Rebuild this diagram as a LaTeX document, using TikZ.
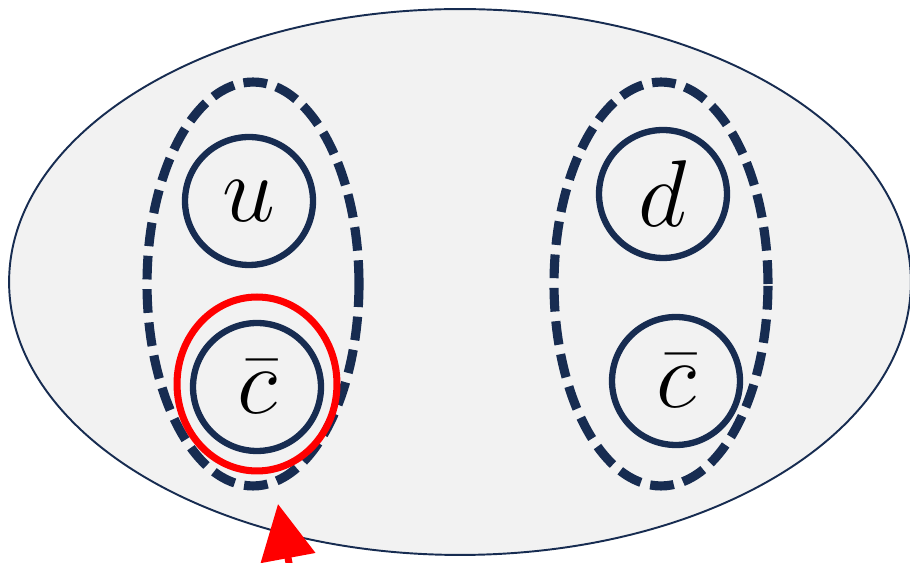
\documentclass[tikz,border=0pt]{standalone}
\usepackage{amsmath, amssymb}
\usepackage{graphicx}
\usepackage{tikz}
\usetikzlibrary{positioning,arrows.meta,shapes.geometric}
\definecolor{navy}{HTML}{172C51}
\definecolor{panel}{HTML}{F2F2F2}
\newcommand{\bigsym}[1]{\scalebox{2.17}{\Huge$#1$}}
\tikzset{
  setnode/.style={draw=navy, ellipse, line width=1.1pt, fill=panel, inner sep=0pt, minimum width=18.04cm, minimum height=10.92cm},
  groupnode/.style={draw=navy, ellipse, line width=5.2pt, dash pattern=on 13.5pt off 5.5pt, inner sep=0pt, minimum width=4.24cm, minimum height=8.08cm},
  elemnode/.style={draw=navy, circle, line width=3.6pt, inner sep=0pt, minimum size=2.56cm},
  picknode/.style={draw=red, ellipse, line width=4pt, inner sep=0pt, minimum width=3.2cm, minimum height=3.48cm},
  pickarrow/.style={-{Triangle[length=1.1cm, width=1.08cm]}, line width=4pt, red}
}

\begin{document}
\begin{tikzpicture}[x=0.02cm, y=-0.02cm]
      \clip (0,0) rectangle (910,563);
      \node[setnode] (all) at (460,282) {};
      \node[groupnode] (left) at (253,284) {};
      \node[groupnode, minimum width=4.28cm] (right) at (661,284) {};
      \node[elemnode] (u) at (249,201) {\bigsym{u}};
      \node[elemnode] (cl) at (257,387) {\bigsym{\bar{c}}};
      \node[elemnode] (d) at (663,194) {\bigsym{d}};
      \node[elemnode] (cr) at (676,381) {\bigsym{\bar{c}}};
      \node[picknode] (pick) at (257,384) {};
      \coordinate (tail) at (294,590);
      \coordinate (tip) at (278,504);
      \draw[pickarrow] (tail) -- (tip);
    \end{tikzpicture}
\end{document}
